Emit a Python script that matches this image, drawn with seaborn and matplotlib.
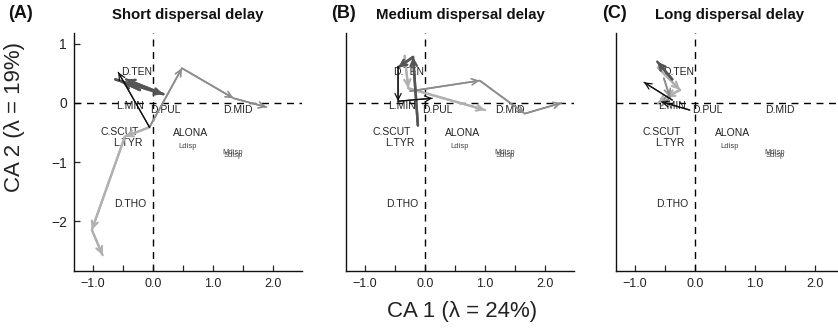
import matplotlib
matplotlib.use("Agg")
import matplotlib.pyplot as plt
import seaborn as sns

sns.set_style("ticks")
plt.rcParams['font.family'] = ['Liberation Sans', 'DejaVu Sans']

# species scores (same in all three panels)
species = ["D.TEN", "L.MIN", "D.PUL", "D.MID", "C.SCUT", "L.TYR", "ALONA", "D.THO"]
species_x = [-0.27, -0.38, 0.2, 1.42, -0.55, -0.42, 0.62, -0.38]
species_y = [0.53, -0.05, -0.12, -0.12, -0.5, -0.68, -0.51, -1.71]

# dispersal treatment scores
delays = ["Ldisp", "Mdisp", "Sdisp"]
delay_x = [0.57, 1.32, 1.34]
delay_y = [-0.73, -0.84, -0.89]

panel_titles = ["Short dispersal delay", "Medium dispersal delay", "Long dispersal delay"]
panel_tags = ["(A)", "(B)", "(C)"]

# trajectories: each is a list of (x, y) points, arrows follow the order
short_black = [[(-0.06, -0.41), (-0.58, 0.52)]]
short_dark = [[(-0.63, 0.4), (0.17, 0.15), (-0.45, 0.4)],
              [(-0.22, 0.22), (-0.52, 0.36)]]
short_mid = [[(-0.06, -0.41), (0.48, 0.59), (1.34, 0.08), (1.89, -0.07)]]
short_light = [[(-0.06, -0.41), (-0.47, -0.57), (-1.02, -2.15), (-0.84, -2.58)]]

medium_black = [[(-0.45, 0.62), (-0.45, 0.03), (0.12, 0.08)]]
medium_dark = [[(-0.12, -0.38), (-0.2, 0.78), (-0.45, 0.6)]]
medium_mid = [[(-0.25, 0.2), (0.91, 0.38), (1.66, -0.18), (2.27, 0.0)]]
medium_light = [[(-0.34, 0.8), (-0.28, 0.25), (1.0, -0.12)]]

long_black = [[(-0.38, 0.05), (-0.85, 0.35)],
              [(-0.09, -0.12), (-0.56, 0.02)]]
long_dark = [[(-0.38, 0.4), (-0.63, 0.7)]]
long_mid = [[(-0.52, 0.42), (-0.42, 0.1), (-0.56, -0.05)]]
long_light = [[(-0.62, 0.6), (-0.25, 0.22), (-0.48, 0.1), (-0.62, 0.0)]]

panels = [
    (short_light, short_mid, short_dark, short_black),
    (medium_light, medium_mid, medium_dark, medium_black),
    (long_light, long_mid, long_dark, long_black),
]
styles = [("#b0b0b0", 1.6), ("#8c8c8c", 1.2), ("#555555", 1.8), ("#111111", 0.9)]

fig = plt.figure(figsize=(8.38, 3.29), dpi=100)
lefts = [74, 346, 616]
tag_x = [8, 331, 602]
W, H = 838, 329

for i, paths in enumerate(panels):
    ax = fig.add_axes([lefts[i] / W, (H - 271) / H, 228 / W, 238 / H])
    ax.set_xlim(-1.317, 2.48)
    ax.set_ylim(-2.847, 1.186)
    ax.axhline(0, color="black", lw=1, ls=(0, (5, 4)), zorder=1)
    ax.axvline(0, color="black", lw=1, ls=(0, (5, 4)), zorder=1)

    for name, x, y in zip(species, species_x, species_y):
        ax.text(x, y, name, ha="center", va="center", fontsize=7.5, color="#222222", zorder=2)
    for name, x, y in zip(delays, delay_x, delay_y):
        ax.text(x, y, name, ha="center", va="center", fontsize=5.5, color="#444444", zorder=2)

    for group, (col, lw) in zip(paths, styles):
        for path in group:
            xs = [p[0] for p in path]
            ys = [p[1] for p in path]
            sns.lineplot(x=xs, y=ys, sort=False, estimator=None, color=col, lw=lw, ax=ax, zorder=3)
            for a, b in zip(path[:-1], path[1:]):
                ax.annotate("", xy=b, xytext=a,
                            arrowprops=dict(arrowstyle="->,head_length=0.45,head_width=0.22",
                                            color=col, lw=lw, shrinkA=0, shrinkB=0),
                            zorder=3)

    sns.despine(ax=ax)
    ax.set_xticks([-1, 0, 1, 2])
    ax.set_xticklabels(["\u22121.0", "0.0", "1.0", "2.0"], fontsize=9, color="#222222")
    ax.set_xticks([-0.5, 0.5, 1.5], minor=True)
    ax.tick_params(axis="x", which="both", direction="in", length=4, width=0.9, pad=5)
    if i == 0:
        ax.set_yticks([1, 0, -1, -2])
        ax.set_yticklabels(["1", "0", "\u22121", "\u22122"], fontsize=10, color="#222222")
        ax.tick_params(axis="y", direction="in", length=4, width=0.9, pad=5)
    else:
        ax.set_yticks([])
    for s in ax.spines.values():
        s.set_linewidth(1.0)
        s.set_color("#111111")
    ax.set_title(panel_titles[i], fontsize=10.8, fontweight="bold", pad=10, color="#111111")
    fig.text(tag_x[i] / W, 1 - 14 / H, panel_tags[i], fontsize=13,
             fontweight="bold", ha="left", va="center", color="#111111")

fig.text(462 / W, 1 - 311 / H, "CA 1 (\u03bb = 24%)", fontsize=16, ha="center", va="center",
         color="#222222")
fig.text(15 / W, 1 - 117 / H, "CA 2 (\u03bb = 19%)", fontsize=16, ha="center", va="center",
         rotation=90, color="#222222")

fig.savefig("out.png", dpi=100)
